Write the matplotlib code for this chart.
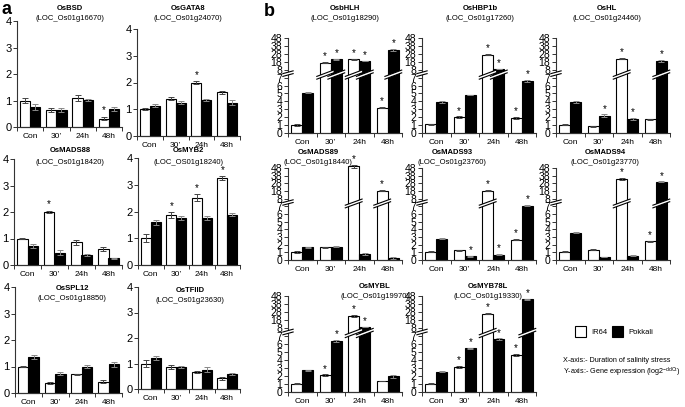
import matplotlib
matplotlib.use("Agg")
import matplotlib.pyplot as plt
from matplotlib.patches import Polygon, Rectangle
import matplotlib.transforms as mtransforms

W, H = 685, 407
plt.rcParams["font.family"] = ["Liberation Sans", "DejaVu Sans"]

cats = ["Con", "30\u2019", "24h", "48h"]

# panel a: linear 0-4 scale
a_genes = ["OsBSD", "OsGATA8", "OsMADS88", "OsMYB2", "OsSPL12", "OsTFIID"]
a_locs = ["(LOC_Os01g16670)", "(LOC_Os01g24070)", "(LOC_Os01g18420)",
          "(LOC_OS01g18240)", "(LOC_Os01g18850)", "(LOC_Os01g23630)"]
ir64_a = [[1.0, 0.65, 1.1, 0.32], [1.0, 1.4, 2.0, 1.63], [1.0, 2.0, 0.85, 0.6],
          [1.0, 1.87, 2.52, 3.25], [1.0, 0.37, 0.7, 0.43], [1.0, 0.85, 0.67, 0.42]]
ir64_a_err = [[0.08, 0.08, 0.12, 0.07], [0.03, 0.07, 0.05, 0.05], [0.03, 0.05, 0.1, 0.07],
              [0.15, 0.1, 0.12, 0.06], [0.03, 0.03, 0.03, 0.05], [0.12, 0.08, 0.04, 0.06]]
pok_a = [[0.75, 0.65, 1.02, 0.67], [1.13, 1.25, 1.35, 1.25], [0.73, 0.47, 0.37, 0.25],
         [1.6, 1.77, 1.77, 1.88], [1.35, 0.73, 1.0, 1.08], [1.22, 0.87, 0.75, 0.57]]
pok_a_err = [[0.1, 0.08, 0.05, 0.08], [0.05, 0.04, 0.05, 0.08], [0.07, 0.1, 0.03, 0.03],
             [0.1, 0.08, 0.08, 0.06], [0.07, 0.06, 0.05, 0.08], [0.07, 0.03, 0.1, 0.04]]
star_ir64_a = [[0, 0, 0, 1], [0, 0, 1, 0], [0, 1, 0, 0], [0, 1, 1, 1], [0, 0, 0, 0], [0, 0, 0, 0]]
star_pok_a = [[0, 0, 0, 0]] * 6

# panel b: broken axis (0-7, then 8, 18, 28, 38, 48)
b_genes = ["OsbHLH", "OsHBP1b", "OsHL", "OsMADS89", "OsMADS93", "OsMADS94", "OsMYBL", "OsMYB78L"]
b_locs = ["(LOC_Os01g18290)", "(LOC_Os01g17260)", "(LOC_Os01g24460)", "(LOC_Os01g18440)",
          "(LOC_Os01g23760)", "(LOC_Os01g23770)", "(LOC_Os01g19970)", "(LOC_Os01g19330)"]
ir64_b = [[1.0, 17, 21, 3.2], [1.1, 2.0, 27, 1.9], [1.05, 0.85, 22, 1.75],
          [1.05, 1.65, 50, 18.5], [1.1, 1.25, 18.5, 2.65], [1.1, 1.35, 34, 2.45],
          [1.05, 2.1, 23, 1.35], [1.05, 3.1, 26, 4.6]]
ir64_b_err = [[0.15, 1, 1, 0.1], [0.1, 0.1, 1, 0.08], [0.1, 0.08, 1, 0.08],
              [0.1, 0.1, 1.5, 1], [0.07, 0.1, 1, 0.1], [0.05, 0.1, 1, 0.08],
              [0.1, 0.1, 1, 0.03], [0.1, 0.15, 1, 0.15]]
pok_b = [[5.1, 21, 19, 33], [3.9, 4.8, 9, 6.6], [3.9, 2.2, 1.75, 19],
         [1.65, 1.75, 0.8, 0.3], [2.8, 0.5, 0.7, 7.1], [3.55, 0.4, 0.55, 30],
         [2.7, 6.4, 9, 1.95], [2.55, 5.45, 6.6, 44]]
pok_b_err = [[0.05, 0.5, 0.5, 1], [0.1, 0.05, 0.3, 0.1], [0.15, 0.15, 0.15, 1],
             [0.1, 0.1, 0.15, 0.15], [0.05, 0.05, 0.05, 0.05], [0.05, 0.04, 0.04, 0.5],
             [0.08, 0.1, 0.3, 0.2], [0.08, 0.1, 0.1, 0.5]]
star_ir64_b = [[0, 1, 1, 1], [0, 1, 1, 1], [0, 0, 1, 0], [0, 0, 1, 1],
               [0, 0, 1, 1], [0, 0, 1, 1], [0, 1, 1, 0], [0, 1, 1, 1]]
star_pok_b = [[0, 1, 1, 1], [0, 0, 1, 1], [0, 1, 1, 1], [0, 0, 0, 0],
              [0, 1, 1, 1], [0, 0, 0, 1], [0, 1, 1, 0], [0, 1, 1, 1]]
b_ticks = [0, 1, 2, 3, 4, 5, 6, 7, 8, 18, 28, 38, 48]

fig = plt.figure(figsize=(W / 100, H / 100), dpi=100)


def px_axes(left, right, top, bottom):
    return fig.add_axes([left / W, 1 - bottom / H, (right - left) / W, (bottom - top) / H])


def px_text(x, y, s, **kw):
    fig.text(x / W, 1 - y / H, s, ha="center", va="center", **kw)


def fwd(v):
    return v if v <= 7.5 else 8 + (v - 8) / 10.0


def style_axes(ax, ylim, ticklabels=None, ysize=8):
    ax.set_xlim(-0.5, 3.5)
    ax.set_ylim(0, ylim)
    for s in ["top", "right"]:
        ax.spines[s].set_visible(False)
    for s in ["left", "bottom"]:
        ax.spines[s].set_linewidth(0.8)
        ax.spines[s].set_color("#333333")
    ax.set_xticks([-0.5, 0.5, 1.5, 2.5, 3.5])
    ax.set_xticklabels([])
    ax.set_xticks(range(4), minor=True)
    ax.set_xticklabels(cats, minor=True, fontsize=6)
    ax.tick_params(axis="x", which="major", length=3, width=0.7, color="#333333")
    ax.tick_params(axis="x", which="minor", length=0, pad=4)
    ax.tick_params(axis="y", length=3, width=0.7, color="#333333", pad=1, labelsize=ysize)
    if ticklabels is not None:
        ax.set_yticks(range(len(ticklabels)))
        ax.set_yticklabels([str(t) for t in ticklabels])
    else:
        ax.set_yticks(range(int(ylim) + 1))


def draw_pair(ax, ir, ir_err, pk, pk_err, st_ir, st_pk, broken=False):
    w = 0.39
    tf = fwd if broken else (lambda v: v)
    for i in range(4):
        for val, err, st, off, col in [(ir[i], ir_err[i], st_ir[i], -w / 2, "white"),
                                       (pk[i], pk_err[i], st_pk[i], w / 2, "black")]:
            x = i + off
            h = tf(val)
            e = tf(val + err) - h
            ax.bar(x, h, width=w, color=col, edgecolor="black", linewidth=0.8,
                   clip_on=False, zorder=2)
            ax.errorbar(x, h, yerr=e, fmt="none", ecolor="#444444" if col == "white" else "#888888",
                        elinewidth=0.7, capsize=2, capthick=0.7, clip_on=False, zorder=3)
            if st:
                ax.text(x, h + e + (0.05 if not broken else 0.1), "*", ha="center",
                        va="bottom", fontsize=7, clip_on=False)
            if broken and val > 7.5:
                ov = 0.1
                x0, x1 = x - w / 2 - ov, x + w / 2 + ov
                y0, y1, th = 6.8, 7.6, 0.35
                ax.add_patch(Polygon([[x0, y0], [x1, y1], [x1, y1 + th], [x0, y0 + th]],
                                     closed=True, facecolor="white", edgecolor="none",
                                     zorder=4, clip_on=False))
                ax.plot([x0, x1], [y0, y1], color="black", lw=0.8, zorder=5, clip_on=False)
                ax.plot([x0, x1], [y0 + th, y1 + th], color="black", lw=0.8, zorder=5,
                        clip_on=False)


def axis_break(ax):
    tr = mtransforms.blended_transform_factory(ax.transAxes, ax.transData)
    dx = 0.045
    ax.add_patch(Polygon([[-dx, 7.15], [dx, 7.5], [dx, 7.85], [-dx, 7.5]], closed=True,
                         facecolor="white", edgecolor="none", transform=tr,
                         clip_on=False, zorder=5))
    ax.plot([-dx, dx], [7.15, 7.5], color="black", lw=0.8, transform=tr, clip_on=False, zorder=6)
    ax.plot([-dx, dx], [7.5, 7.85], color="black", lw=0.8, transform=tr, clip_on=False, zorder=6)


# panel a layout (left, right, top, bottom) in pixels
a_boxes = [(17, 122, 21, 127), (137, 240, 29, 136), (14, 122, 159, 265),
           (138, 240, 158, 265), (15, 122, 287, 393), (138, 240, 287, 389)]
a_titles = [(70, 8, 19), (188, 8, 19), (70, 151, 162), (188, 151, 162),
            (72, 289, 299), (190, 290, 300)]
for g in range(6):
    ax = px_axes(*a_boxes[g])
    style_axes(ax, 4)
    draw_pair(ax, ir64_a[g], ir64_a_err[g], pok_a[g], pok_a_err[g],
              star_ir64_a[g], star_pok_a[g])
    tx, ty1, ty2 = a_titles[g]
    px_text(tx, ty1, a_genes[g], fontsize=5.5, fontweight="bold")
    px_text(tx, ty2, a_locs[g], fontsize=5.5)

# panel b layout
b_boxes = [(288, 402, 38, 133), (422, 536, 38, 133), (556, 670, 38, 133),
           (288, 402, 168, 260), (422, 536, 168, 260), (556, 670, 168, 260),
           (288, 402, 296, 392), (422, 536, 296, 392)]
b_titles = [(345, 8, 18), (480, 8, 18), (607, 8, 18),
            (318, 152, 163), (452, 152, 163), (605, 152, 163),
            (375, 287, 297), (488, 287, 297)]
for g in range(8):
    ax = px_axes(*b_boxes[g])
    style_axes(ax, 12, ticklabels=b_ticks, ysize=7.5)
    draw_pair(ax, ir64_b[g], ir64_b_err[g], pok_b[g], pok_b_err[g],
              star_ir64_b[g], star_pok_b[g], broken=True)
    axis_break(ax)
    tx, ty1, ty2 = b_titles[g]
    px_text(tx, ty1, b_genes[g], fontsize=5.5, fontweight="bold")
    px_text(tx, ty2, b_locs[g], fontsize=5.5)

# panel letters
px_text(6, 10, "a", fontsize=13, fontweight="bold")
px_text(269, 12, "b", fontsize=13, fontweight="bold")

# legend
lax = fig.add_axes([0, 0, 1, 1], facecolor="none")
lax.set_xlim(0, W)
lax.set_ylim(H, 0)
lax.axis("off")
lax.add_patch(Rectangle((575, 326), 11, 11, facecolor="white", edgecolor="black", lw=0.8))
lax.text(591, 332, "IR64", fontsize=5.5, va="center")
lax.add_patch(Rectangle((612, 326), 11, 11, facecolor="black", edgecolor="black", lw=0.8))
lax.text(628, 332, "Pokkali", fontsize=5.5, va="center")
lax.text(563, 361, "X-axis:- Duration of salinity stress", fontsize=5.2, va="center")
lax.text(563, 372, "Y-axis:- Gene expression (log2$^{\\mathregular{-ddCt}}$)",
         fontsize=5.2, va="center")

fig.savefig("out.png", dpi=100)
